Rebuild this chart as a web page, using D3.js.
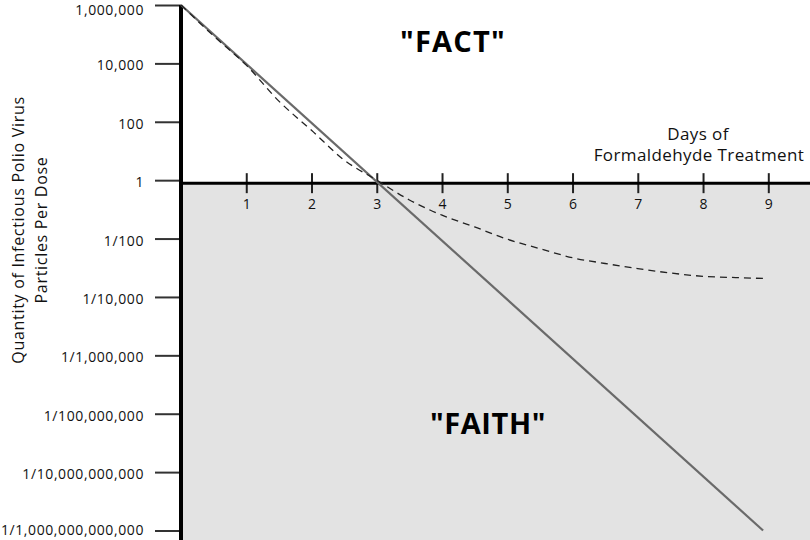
<!DOCTYPE html>
<html><head><meta charset="utf-8">
<script src="https://cdn.jsdelivr.net/npm/d3@7"></script>
<style>html,body{margin:0;padding:0;background:#fff}svg{display:block}</style>
</head><body>
<svg id="chart" width="810" height="540"></svg>
<script>
// ---- data ----
const yTickValues = [1e6, 1e4, 1e2, 1, 1e-2, 1e-4, 1e-6, 1e-8, 1e-10, 1e-12];
const yTickLabels = ["1,000,000", "10,000", "100", "1", "1/100", "1/10,000", "1/1,000,000",
  "1/100,000,000", "1/10,000,000,000", "1/1,000,000,000,000"];
const xTickValues = [1, 2, 3, 4, 5, 6, 7, 8, 9];
const xTickLabels = ["1", "2", "3", "4", "5", "6", "7", "8", "9"];
// "Faith": straight-line decline
const faithDays = [0, 8.92];
const faithValues = [1e6, 1e-12];
// "Fact": observed curve that levels off
const factDays = [0, 0.5, 1, 1.5, 2, 2.5, 3, 3.5, 4, 4.5, 5, 5.5, 6, 6.5, 7, 7.5, 8, 8.5, 8.92];
const factValues = [1e6, 8.7e4, 8.7e3, 5.1e2, 51, 4.9, 1, 0.21, 0.063, 0.025, 0.0095,
  0.0045, 0.0022, 0.0014, 9.3e-4, 6.6e-4, 5.1e-4, 4.6e-4, 4.3e-4];

// ---- chart ----
const svg = d3.select("#chart");
const W = 810, H = 540;
const x = d3.scaleLinear().domain([0, 9]).range([181, 768.3]);
const y = d3.scaleLog().domain([1e-12, 1e6]).range([530.5, 5]);
const axisY = y(1) + 3;

// grey "faith" region
svg.append("rect").attr("x", x(0) + 2).attr("y", axisY)
  .attr("width", W - x(0) - 2).attr("height", H - axisY).attr("fill", "#e3e3e3");

// y axis
const yAxis = d3.axisLeft(y).tickValues(yTickValues)
  .tickFormat((d, i) => yTickLabels[i]).tickSize(26).tickPadding(11);
const gy = svg.append("g").attr("transform", `translate(${x(0)},0)`).call(yAxis);
gy.select(".domain").remove();
gy.selectAll(".tick line").attr("stroke", "#333").attr("stroke-width", 2);
const nTicks = yTickValues.length;
gy.selectAll(".tick text").attr("font-family", "'Open Sans', sans-serif")
  .attr("font-size", 14).attr("letter-spacing", "0.6px").attr("fill", "#111")
  .attr("dy", (d, i) => i === 0 ? "0.66em" : (i === nTicks - 1 ? "0.3em" : "0.47em"));
svg.append("line").attr("x1", x(0)).attr("x2", x(0)).attr("y1", y(1e6)).attr("y2", H)
  .attr("stroke", "#000").attr("stroke-width", 4);

// x axis
const xAxis = d3.axisBottom(x).tickValues(xTickValues)
  .tickFormat((d, i) => xTickLabels[i]).tickSize(10).tickPadding(6);
const gx = svg.append("g").attr("transform", `translate(0,${axisY})`).call(xAxis);
gx.select(".domain").remove();
gx.selectAll(".tick line").attr("y1", -10).attr("stroke", "#222").attr("stroke-width", 2);
gx.selectAll(".tick text").attr("font-family", "'Open Sans', sans-serif")
  .attr("font-size", 14).attr("fill", "#111");
svg.append("line").attr("x1", x(0)).attr("x2", W).attr("y1", axisY).attr("y2", axisY)
  .attr("stroke", "#000").attr("stroke-width", 3);

// lines
const faithLine = d3.line().x((d, i) => x(faithDays[i])).y(d => y(d));
svg.append("path").attr("d", faithLine(faithValues)).attr("fill", "none")
  .attr("stroke", "#6a6a6a").attr("stroke-width", 2.2);
const factLine = d3.line().x((d, i) => x(factDays[i])).y(d => y(d)).curve(d3.curveMonotoneX);
svg.append("path").attr("d", factLine(factValues)).attr("fill", "none")
  .attr("stroke", "#222").attr("stroke-width", 1.3).attr("stroke-dasharray", "7,5");

// labels
svg.append("text").attr("x", 453).attr("y", 52).attr("text-anchor", "middle")
  .attr("font-family", "'Open Sans', sans-serif").attr("font-weight", "bold")
  .attr("font-size", 29).attr("letter-spacing", "1.2px").attr("fill", "#000").text('"FACT"');
svg.append("text").attr("x", 488).attr("y", 434).attr("text-anchor", "middle")
  .attr("font-family", "'Open Sans', sans-serif").attr("font-weight", "bold")
  .attr("font-size", 29).attr("letter-spacing", "0.6px").attr("fill", "#000").text('"FAITH"');

const xt = svg.append("text").attr("text-anchor", "middle")
  .attr("font-family", "'Open Sans', sans-serif").attr("font-size", 17)
  .attr("letter-spacing", "0.4px").attr("fill", "#111");
xt.append("tspan").attr("x", 698).attr("y", 140).text("Days of");
xt.append("tspan").attr("x", 699).attr("y", 161).text("Formaldehyde Treatment");

const yt = svg.append("text").attr("text-anchor", "middle")
  .attr("transform", "translate(0,230) rotate(-90)")
  .attr("font-family", "'Open Sans', sans-serif").attr("font-size", 16)
  .attr("letter-spacing", "0.7px").attr("fill", "#111");
yt.append("tspan").attr("x", 0).attr("y", 24).text("Quantity of Infectious Polio Virus");
yt.append("tspan").attr("x", 0).attr("y", 47).text("Particles Per Dose");
</script>
</body></html>
